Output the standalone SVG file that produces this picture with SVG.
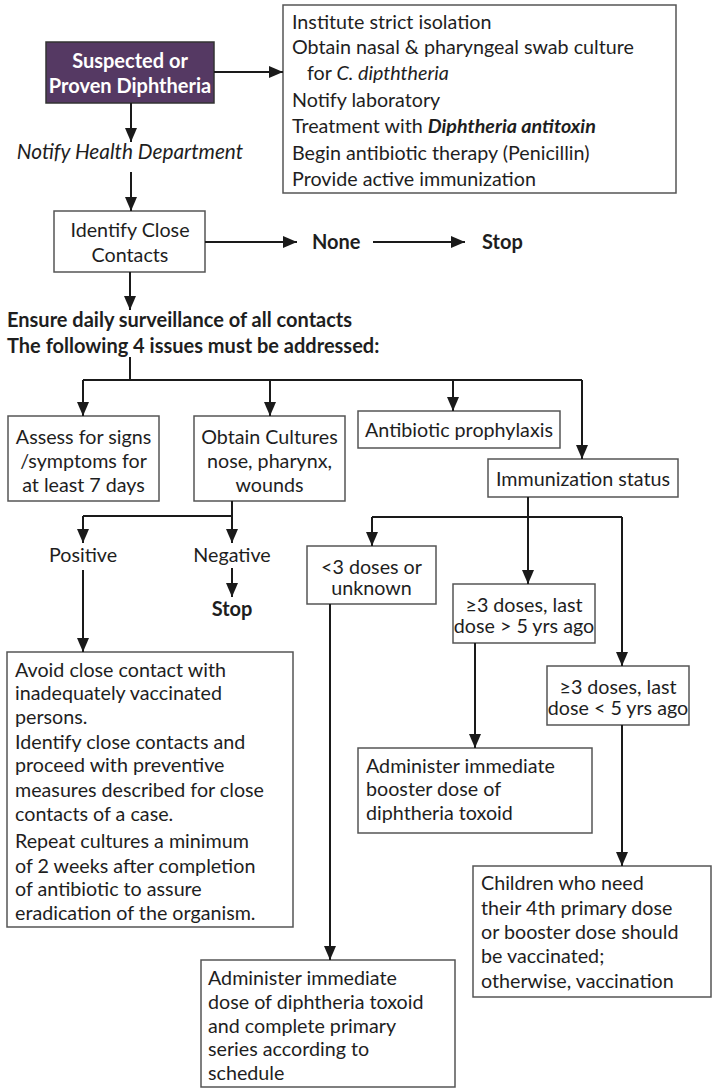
<svg xmlns="http://www.w3.org/2000/svg" width="713" height="1092" viewBox="0 0 713 1092">
<defs>
<marker id="ah" markerUnits="userSpaceOnUse" markerWidth="14" markerHeight="12" refX="14" refY="6" orient="auto">
<path d="M0,0 L14,6 L0,12 z" fill="#1a1a1a"/>
</marker>
<style>
text{font-family:Lato,"Open Sans","Liberation Sans",sans-serif;font-size:19.7px;fill:#1e1e1e}
.c{text-anchor:middle}
.b{font-weight:bold}
.i{font-style:italic}
.box{fill:#fff;stroke:#555;stroke-width:1.5}
.ln{fill:none;stroke:#1a1a1a;stroke-width:2}
.ar{fill:none;stroke:#1a1a1a;stroke-width:2;marker-end:url(#ah)}
</style>
</defs>
<rect width="713" height="1092" fill="#fff"/>

<g id="n-suspected">
<rect x="46" y="42" width="168" height="61" fill="#553963" stroke="#333" stroke-width="1.5"/>
<text class="c b" x="130" y="68" style="fill:#fff;font-size:20px">Suspected or</text>
<text class="c b" x="130" y="93" style="fill:#fff;font-size:20px">Proven Diphtheria</text>
</g>

<g id="n-actions">
<rect class="box" x="283" y="5" width="393" height="188"/>
<text x="292" y="29">Institute strict isolation</text>
<text x="292" y="54">Obtain nasal &amp; pharyngeal swab culture</text>
<text x="307" y="80">for <tspan class="i">C. dipththeria</tspan></text>
<text x="292" y="107">Notify laboratory</text>
<text x="292" y="133">Treatment with <tspan class="b i">Diphtheria antitoxin</tspan></text>
<text x="292" y="160">Begin antibiotic therapy (Penicillin)</text>
<text x="292" y="186">Provide active immunization</text>
</g>

<g id="n-notify">
<text class="c i" x="130" y="159" style="font-size:20.8px">Notify Health Department</text>
</g>

<g id="n-identify">
<rect class="box" x="54" y="211" width="151" height="61"/>
<text class="c" x="130" y="237">Identify Close</text>
<text class="c" x="130" y="262">Contacts</text>
</g>

<g id="n-none">
<text class="b" x="312" y="249" style="font-size:20px">None</text>
</g>
<g id="n-stop1">
<text class="b" x="482" y="249" style="font-size:20px">Stop</text>
</g>

<g id="n-ensure">
<text class="b" x="7" y="327" style="font-size:20px">Ensure daily surveillance of all contacts</text>
<text class="b" x="7" y="353" style="font-size:20px">The following 4 issues must be addressed:</text>
</g>

<g id="n-assess">
<rect class="box" x="8" y="416" width="151" height="85"/>
<text class="c" x="83.5" y="444">Assess for signs</text>
<text class="c" x="83.5" y="468">/symptoms for</text>
<text class="c" x="83.5" y="492">at least 7 days</text>
</g>

<g id="n-cultures">
<rect class="box" x="194" y="416" width="151" height="85"/>
<text class="c" x="269.5" y="444">Obtain Cultures</text>
<text class="c" x="269.5" y="468">nose, pharynx,</text>
<text class="c" x="269.5" y="492">wounds</text>
</g>

<g id="n-prophylaxis">
<rect class="box" x="358" y="411" width="202" height="37"/>
<text class="c" x="459" y="437">Antibiotic prophylaxis</text>
</g>

<g id="n-immunization">
<rect class="box" x="488" y="459" width="190" height="38"/>
<text class="c" x="583" y="486">Immunization status</text>
</g>

<g id="n-positive">
<text class="c" x="83" y="562">Positive</text>
</g>
<g id="n-negative">
<text class="c" x="232" y="562">Negative</text>
</g>
<g id="n-stop2">
<text class="c b" x="232" y="616" style="font-size:20px">Stop</text>
</g>

<g id="n-lt3">
<rect class="box" x="307" y="546" width="129" height="58"/>
<text class="c" x="371.5" y="574">&lt;3 doses or</text>
<text class="c" x="371.5" y="595">unknown</text>
</g>

<g id="n-gt5">
<rect class="box" x="453" y="584" width="142" height="59"/>
<text class="c" x="524" y="612">≥3 doses, last</text>
<text class="c" x="524" y="633">dose &gt; 5 yrs ago</text>
</g>

<g id="n-lt5">
<rect class="box" x="547" y="666" width="142" height="59"/>
<text class="c" x="618" y="694">≥3 doses, last</text>
<text class="c" x="618" y="715">dose &lt; 5 yrs ago</text>
</g>

<g id="n-positive-actions">
<rect class="box" x="7" y="652" width="286" height="275"/>
<text x="15" y="677">Avoid close contact with</text>
<text x="15" y="700">inadequately vaccinated</text>
<text x="15" y="724">persons.</text>
<text x="15" y="749">Identify close contacts and</text>
<text x="15" y="772">proceed with preventive</text>
<text x="15" y="797">measures described for close</text>
<text x="15" y="821">contacts of a case.</text>
<text x="15" y="848">Repeat cultures a minimum</text>
<text x="15" y="873">of 2 weeks after completion</text>
<text x="15" y="896">of antibiotic to assure</text>
<text x="15" y="920">eradication of the organism.</text>
</g>

<g id="n-booster">
<rect class="box" x="358" y="748" width="234" height="85"/>
<text x="366" y="773">Administer immediate</text>
<text x="366" y="796">booster dose of</text>
<text x="366" y="820">diphtheria toxoid</text>
</g>

<g id="n-children">
<rect class="box" x="473" y="866" width="238" height="131"/>
<text x="481" y="890">Children who need</text>
<text x="481" y="915">their 4th primary dose</text>
<text x="481" y="939">or booster dose should</text>
<text x="481" y="963">be vaccinated;</text>
<text x="481" y="988">otherwise, vaccination</text>
</g>

<g id="n-primary">
<rect class="box" x="201" y="960" width="254" height="127"/>
<text x="208" y="985">Administer immediate</text>
<text x="208" y="1009">dose of diphtheria toxoid</text>
<text x="208" y="1033">and complete primary</text>
<text x="208" y="1056">series according to</text>
<text x="208" y="1080">schedule</text>
</g>

<g id="connectors">
<path class="ar" d="M214,72 H283"/>
<path class="ar" d="M131,103 V142"/>
<path class="ar" d="M131,172 V211"/>
<path class="ar" d="M205,242 H297"/>
<path class="ar" d="M373,242 H465"/>
<path class="ar" d="M130,272 V310"/>
<path class="ln" d="M130,357 V380 M83,380 H582"/>
<path class="ar" d="M83,380 V416"/>
<path class="ar" d="M270,380 V416"/>
<path class="ar" d="M453,380 V411"/>
<path class="ar" d="M582,380 V459"/>
<path class="ln" d="M83,516 H232"/>
<path class="ar" d="M232,501 V543"/>
<path class="ar" d="M83,516 V543"/>
<path class="ar" d="M232,568 V597"/>
<path class="ar" d="M83,570 V652"/>
<path class="ln" d="M372,517 H622"/>
<path class="ar" d="M528,497 V584"/>
<path class="ar" d="M372,517 V546"/>
<path class="ar" d="M622,517 V666"/>
<path class="ar" d="M330,604 V960"/>
<path class="ar" d="M475,643 V748"/>
<path class="ar" d="M622,725 V866"/>
</g>
</svg>
